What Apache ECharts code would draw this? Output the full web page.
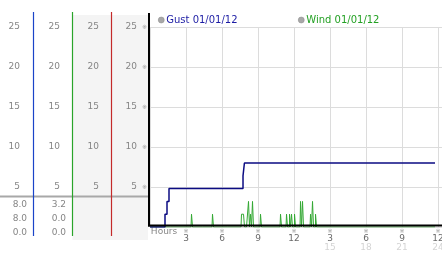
<!DOCTYPE html>
<html><head><meta charset="utf-8">
<script src="https://cdn.jsdelivr.net/npm/echarts@6/dist/echarts.min.js"></script>
<style>html,body{margin:0;padding:0;background:#fff}#c{width:442px;height:253px}</style>
</head><body><div id="c"></div>
<script>
// ---- data ----
const gustName = 'Gust 01/01/12';
const windName = 'Wind 01/01/12';
// time in minutes after midnight, speed values
const gustMinutes = [0, 75, 85, 95, 465, 472, 1425];
const gustValues  = [0, 1.6, 3.2, 4.8, 6.4, 8.0, 8.0];
const windMinutes = [0, 205, 210, 215, 310, 315, 320, 455, 460, 465, 470, 475,
  490, 495, 500, 505, 510, 515, 520, 550, 555, 560, 650, 655, 660,
  680, 685, 690, 695, 700, 705, 710, 715, 720, 725, 730,
  750, 755, 760, 765, 770, 800, 805, 810, 815, 820, 825, 830, 835, 1425];
const windValues  = [0, 0, 1.6, 0, 0, 1.6, 0, 0, 1.6, 1.6, 1.6, 0,
  0, 3.2, 0, 1.6, 0, 3.2, 0, 0, 1.6, 0, 0, 1.6, 0,
  0, 1.6, 0, 0, 1.6, 0, 1.6, 0, 0, 1.6, 0,
  0, 3.2, 0, 3.2, 0, 0, 1.6, 0, 3.2, 0, 0, 1.6, 0, 0];
const yTickLabels = [5, 10, 15, 20, 25];
const xTickHours = [3, 6, 9, 12, 15, 18, 21, 24];
const gustStats = ['8.0', '8.0', '0.0'];
const windStats = ['3.2', '0.0', '0.0'];

// ---- styling ----
const FONT = 'DejaVu Sans';
const LBL = '#858585';
const chart = echarts.init(document.getElementById('c'), null, {renderer: 'canvas'});

const yFmt = v => (yTickLabels.indexOf(v) >= 0 ? String(v) : '');
function sideAxis(offset, margin) {
  return {
    type: 'value', gridIndex: 0, min: 0, max: 25, interval: 5, position: 'left', offset: offset,
    axisLine: {show: false}, axisTick: {show: false}, splitLine: {show: false},
    axisLabel: {margin: margin, color: LBL, fontSize: 9, fontFamily: FONT, formatter: yFmt}
  };
}

const statTexts = [];
const statY = [204.5, 218.5, 232.5];
gustStats.forEach((s, i) => statTexts.push({type: 'text', x: 27, y: statY[i], z: 50,
  style: {text: s, fill: LBL, font: '9px "DejaVu Sans"', textAlign: 'right', textVerticalAlign: 'middle'}}));
windStats.forEach((s, i) => statTexts.push({type: 'text', x: 66, y: statY[i], z: 50,
  style: {text: s, fill: LBL, font: '9px "DejaVu Sans"', textAlign: 'right', textVerticalAlign: 'middle'}}));

const option = {
  animation: false,
  backgroundColor: '#ffffff',
  grid: {left: 150, right: 0, top: 27, bottom: 26, containLabel: false, outerBoundsMode: 'none'},
  legend: [
    {data: [{name: gustName, textStyle: {color: '#1c1ca4'}}], left: 158, top: 15, padding: 0,
     icon: 'circle', itemWidth: 6, itemHeight: 6, itemStyle: {color: '#a8a8a8', borderColor: '#888', borderWidth: 0.5},
     selectedMode: false, textStyle: {fontFamily: FONT, fontSize: 10, padding: [0, 0, 0, -3]}},
    {data: [{name: windName, textStyle: {color: '#23a023'}}], left: 298, top: 15, padding: 0,
     icon: 'circle', itemWidth: 6, itemHeight: 6, itemStyle: {color: '#a8a8a8', borderColor: '#888', borderWidth: 0.5},
     selectedMode: false, textStyle: {fontFamily: FONT, fontSize: 10, padding: [0, 0, 0, -3]}}
  ],
  xAxis: {
    type: 'value', min: 0, max: 24.33, interval: 3,
    axisLine: {show: false}, axisTick: {show: false},
    splitLine: {show: true, lineStyle: {color: '#dcdcdc', width: 1}},
    name: 'Hours', nameLocation: 'start', nameGap: -3,
    nameTextStyle: {align: 'left', verticalAlign: 'top', color: '#888', fontSize: 9, fontFamily: FONT},
    axisLabel: {
      margin: 1, fontFamily: FONT, hideOverlap: false,
      formatter: function (v) {
        if (xTickHours.indexOf(v) < 0) return '';
        const main = v > 12 ? v - 12 : v;
        let s = '{m|※}\n{a|' + main + '}';
        if (v > 12) s += '\n{b|' + v + '}';
        return s;
      },
      rich: {
        m: {fontSize: 6, lineHeight: 6, color: '#9a9a9a', fontFamily: FONT},
        a: {fontSize: 9, lineHeight: 9, color: '#6a6a6a', fontFamily: FONT},
        b: {fontSize: 9, lineHeight: 9, color: '#d4d4d4', fontFamily: FONT}
      }
    }
  },
  yAxis: [
    {
      type: 'value', min: 0, max: 25, interval: 5, position: 'left',
      axisLine: {show: false}, axisTick: {show: false},
      splitLine: {show: true, lineStyle: {color: '#dcdcdc', width: 1}},
      axisLabel: {
        margin: 3, fontFamily: FONT,
        formatter: v => (yTickLabels.indexOf(v) >= 0 ? '{v|' + v + '}{m|※}' : ''),
        rich: {
          v: {fontSize: 9, color: LBL, fontFamily: FONT, lineHeight: 10, verticalAlign: 'middle'},
          m: {fontSize: 6, color: '#9a9a9a', fontFamily: FONT, lineHeight: 10, verticalAlign: 'middle', padding: [0, 0, 0, 5]}
        }
      }
    },
    sideAxis(39, 12),
    sideAxis(78, 12),
    sideAxis(117, 13)
  ],
  graphic: [
    {type: 'rect', z: -100, shape: {x: 72.5, y: 15, width: 38.5, height: 225}, style: {fill: '#f4f4f4'}},
    {type: 'rect', z: -100, shape: {x: 111, y: 15, width: 37, height: 225}, style: {fill: '#f4f4f4'}},
    {type: 'line', z: 40, shape: {x1: 0, y1: 196.5, x2: 149, y2: 196.5}, style: {stroke: '#a8a8a8', lineWidth: 2}},
    {type: 'line', z: 41, shape: {x1: 33.5, y1: 12, x2: 33.5, y2: 236}, style: {stroke: '#1a44c8', lineWidth: 1.2}},
    {type: 'line', z: 41, shape: {x1: 72.5, y1: 12, x2: 72.5, y2: 236}, style: {stroke: '#2aa42a', lineWidth: 1.2}},
    {type: 'line', z: 41, shape: {x1: 111.5, y1: 12, x2: 111.5, y2: 236}, style: {stroke: '#c42a2a', lineWidth: 1.2}},
    {type: 'line', z: 60, shape: {x1: 149, y1: 13, x2: 149, y2: 226.5}, style: {stroke: '#000', lineWidth: 2}},
    {type: 'line', z: 60, shape: {x1: 148, y1: 225.5, x2: 442, y2: 225.5}, style: {stroke: '#000', lineWidth: 2}}
  ].concat(statTexts),
  series: [
    {
      name: gustName, type: 'line', xAxisIndex: 0, yAxisIndex: 0, step: 'end',
      symbol: 'none', color: '#0b0b82', z: 4,
      lineStyle: {color: '#0b0b82', width: 1.5},
      data: gustMinutes.map((m, i) => [m / 60, gustValues[i]])
    },
    {
      name: windName, type: 'line', xAxisIndex: 0, yAxisIndex: 0, step: 'middle',
      symbol: 'none', color: '#34a834', z: 3,
      lineStyle: {color: '#34a834', width: 1},
      data: windMinutes.map((m, i) => [m / 60, windValues[i]])
    }
  ]
};
chart.setOption(option);
</script>
</body></html>
